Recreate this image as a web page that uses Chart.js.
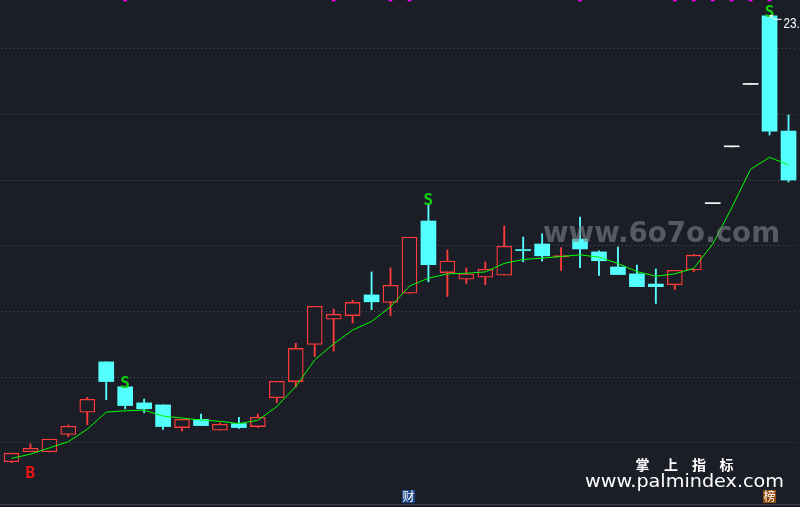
<!DOCTYPE html>
<html><head><meta charset="utf-8">
<script src="https://cdn.jsdelivr.net/npm/chart.js@4.4.1/dist/chart.umd.min.js"></script>
<style>
html,body{margin:0;padding:0;background:#1b1e26;overflow:hidden;}
#wrap{width:800px;height:507px;position:relative;}
</style></head><body>
<div id="wrap"><canvas id="c"></canvas></div>
<script>
// ---- data ----
const days = ['1','2','3','4','5','6','7','8','9','10','11','12','13','14','15','16','17','18','19','20','21',
              '22','23','24','25','26','27','28','29','30','31','32','33','34','35','36','37','38','39','40','41','42'];
const openP  = [9.43, 9.73, 9.73,10.26,10.94,12.47,11.71,11.22,11.16,10.47,10.72,10.39,10.59,10.50,11.38,11.87,13.00,13.77,13.88,14.51,14.28,
                14.56,16.76,15.19,14.99,15.05,15.11,15.87,16.06,15.67,16.21,15.82,15.36,15.15,14.84,14.82,15.27,17.29,19.02,20.92,23.01,19.50];
const highP  = [9.69, 9.97,10.12,10.55,11.39,12.47,11.71,11.34,11.16,10.72,10.88,10.61,10.78,10.88,11.88,13.04,14.16,14.08,14.35,15.21,15.33,
                16.27,17.30,15.88,15.33,15.51,16.61,16.27,16.37,15.95,16.88,15.85,15.97,15.42,15.30,15.26,15.75,17.29,19.02,20.92,23.01,19.99];
const lowP   = [9.40, 9.73, 9.73,10.19,10.56,11.32,11.04,10.92,10.41,10.37,10.53,10.39,10.44,10.47,11.23,11.70,12.63,12.80,13.66,14.06,13.88,
                14.56,14.91,14.46,14.86,14.82,15.11,15.52,15.54,15.25,15.34,15.10,15.13,14.76,14.25,14.67,15.22,17.29,19.02,20.92,19.38,17.95];
const closeP = [9.69, 9.84,10.12,10.51,11.33,11.87,11.14,11.04,10.50,10.72,10.53,10.57,10.47,10.78,11.88,12.88,14.16,13.92,14.28,14.30,14.80,
                16.27,15.43,15.54,15.15,15.29,15.99,15.86,15.70,15.68,15.91,15.55,15.13,14.76,14.76,15.26,15.72,17.29,19.02,20.92,19.50,18.01];
const maLine = [9.53, 9.66, 9.85,10.04,10.42,10.94,10.98,11.00,10.82,10.76,10.70,10.66,10.59,10.69,11.11,11.72,12.53,13.02,13.44,13.70,14.15,
                14.78,15.02,15.15,15.17,15.21,15.47,15.59,15.63,15.68,15.73,15.66,15.47,15.22,15.08,15.15,15.32,16.06,17.16,18.34,18.70,18.47];
const gridTicks = [10, 12, 14, 16, 18, 20, 22];
const buyIdx  = [1];
const sellIdx = [6, 22, 40];
const flagIdx = [6, 17, 20, 21, 30, 35, 36, 37, 38, 39, 40];
const eventIdx  = [21, 40];
const eventText = ['财', '榜'];
const priceTagIdx  = 40;
const priceTagText = '23.01';
const yMin = 8.111, yMax = 23.492;

// ---- styles ----
const BG = '#1b1e26', UP = '#ff3b3b', DOWN = '#54ffff', FLAT = '#ffffff', MA = '#00ff00', GRID = '#4f535d';
const eventBg = ['#1d4a88', '#8c4a0c'];

function kind(i){
  const d = closeP[i] - openP[i];
  if (highP[i] === lowP[i]) return 'flat';
  if (Math.abs(d) < 0.015) return d >= 0 ? 'dojiUp' : 'dojiDown';
  return d > 0 ? 'up' : 'down';
}
function lineColor(i){
  const k = kind(i);
  if (k === 'flat') return FLAT;
  return (k === 'up' || k === 'dojiUp') ? UP : DOWN;
}

const bodyData = openP.map((o, i) => [o, closeP[i]]);
const wickData = lowP.map((l, i) => [l, highP[i]]);
const flagData = days.map((d, i) => flagIdx.includes(i) ? [yMax - 1/32.83, yMax] : null);

const overlay = {
  id: 'overlay',
  beforeDraw(chart){
    const {ctx, width, height} = chart;
    ctx.save(); ctx.fillStyle = BG; ctx.fillRect(0, 0, width, height); ctx.restore();
  },
  afterDraw(chart){
    const {ctx, chartArea, scales:{x, y}} = chart;
    ctx.save();
    // bottom border
    ctx.strokeStyle = '#3b3f49'; ctx.lineWidth = 1;
    ctx.beginPath(); ctx.moveTo(0, chartArea.bottom - 0.5); ctx.lineTo(chart.width, chartArea.bottom - 0.5); ctx.stroke();

    // watermark www.6o7o.com
    let t = 'www.6o7o.com';
    ctx.font = 'bold 29px "DejaVu Sans"';
    let w = ctx.measureText(t).width;
    ctx.save(); ctx.translate(543, 241.5); ctx.scale(237 / w, 1);
    ctx.fillStyle = 'rgba(125,127,133,0.62)'; ctx.textAlign = 'left'; ctx.textBaseline = 'alphabetic';
    ctx.fillText(t, 0, 0); ctx.restore();

    // B / S signals
    ctx.font = 'bold 16px "DejaVu Sans Mono"'; ctx.textAlign = 'center'; ctx.textBaseline = 'alphabetic';
    buyIdx.forEach(i => {
      ctx.fillStyle = '#ee1414';
      ctx.fillText('B', x.getPixelForValue(i), y.getPixelForValue(lowP[i]) + 26);
    });
    sellIdx.forEach(i => {
      ctx.fillStyle = '#10d010';
      ctx.fillText('S', x.getPixelForValue(i), y.getPixelForValue(highP[i]) + 1.5);
    });

    // price tag
    const px = x.getPixelForValue(priceTagIdx), py = y.getPixelForValue(highP[priceTagIdx]);
    ctx.strokeStyle = '#ffffff'; ctx.lineWidth = 1;
    ctx.beginPath();
    ctx.moveTo(px + 0.5, py - 0.5); ctx.lineTo(px + 5, py + 3.5); ctx.lineTo(px + 12, py + 3.5);
    ctx.moveTo(px + 0.5, py - 0.5); ctx.lineTo(px + 3.5, py - 0.5);
    ctx.moveTo(px + 0.5, py - 0.5); ctx.lineTo(px + 0.5, py + 2.5);
    ctx.stroke();
    ctx.fillStyle = '#ffffff'; ctx.textAlign = 'left';
    ctx.font = '15px "Liberation Sans"';
    ctx.save(); ctx.translate(px + 14, py + 12); ctx.scale(0.78, 1);
    ctx.fillText(priceTagText, 0, 0); ctx.restore();

    // event badges
    ctx.font = '12px "Noto Sans CJK SC"'; ctx.textAlign = 'center'; ctx.textBaseline = 'middle';
    eventIdx.forEach((i, k) => {
      const cx = Math.round(x.getPixelForValue(i));
      ctx.fillStyle = eventBg[k]; ctx.fillRect(cx - 7, 490, 13, 13);
      ctx.fillStyle = '#ffffff'; ctx.fillText(eventText[k], cx - 0.5, 496.5);
    });

    // palmindex logo
    ctx.fillStyle = '#ffffff';
    ctx.font = 'bold 14px "Noto Sans CJK SC"'; ctx.textBaseline = 'middle'; ctx.textAlign = 'center';
    const chars = ['掌','上','指','标'], cxs = [642.5, 671, 699, 726.5];
    chars.forEach((c, k) => ctx.fillText(c, cxs[k], 465));
    t = 'www.palmindex.com';
    ctx.font = '17.5px "DejaVu Sans"';
    w = ctx.measureText(t).width;
    ctx.save(); ctx.translate(585, 487); ctx.scale(199 / w, 1);
    ctx.textAlign = 'left'; ctx.textBaseline = 'alphabetic'; ctx.fillText(t, 0, 0); ctx.restore();

    ctx.restore();
  }
};

new Chart(document.getElementById('c'), {
  type: 'bar',
  data: {
    labels: days,
    datasets: [
      { type: 'line', data: maLine, borderColor: MA, borderWidth: 1, pointRadius: 0, tension: 0, order: 0 },
      { type: 'bar', data: bodyData, order: 1, grouped: false, barThickness: 15, minBarLength: 1, borderSkipped: false,
        backgroundColor: c => { const k = kind(c.dataIndex); return k === 'up' ? BG : lineColor(c.dataIndex); },
        borderColor: c => lineColor(c.dataIndex),
        borderWidth: c => kind(c.dataIndex) === 'up' ? 1.3 : 0 },
      { type: 'bar', data: wickData, order: 2, grouped: false, barThickness: 1.2, borderSkipped: false,
        backgroundColor: c => lineColor(c.dataIndex), borderWidth: 0 },
      { type: 'bar', data: flagData, order: 3, grouped: false, barThickness: 3, borderSkipped: false,
        backgroundColor: '#ff00ff', borderWidth: 0 }
    ]
  },
  options: {
    responsive: true, maintainAspectRatio: false, animation: false, devicePixelRatio: 1, events: [],
    layout: { padding: { left: 2, right: 2, top: 0, bottom: 2 } },
    plugins: { legend: { display: false }, tooltip: { enabled: false } },
    scales: {
      x: { display: false, offset: true },
      y: { display: true, min: yMin, max: yMax,
           afterBuildTicks: s => { s.ticks = gridTicks.map(v => ({ value: v })); },
           ticks: { display: false },
           grid: { color: GRID, lineWidth: 1, drawTicks: false },
           border: { display: false, dash: [1, 3] } }
    }
  },
  plugins: [overlay]
});
</script>
</body></html>
